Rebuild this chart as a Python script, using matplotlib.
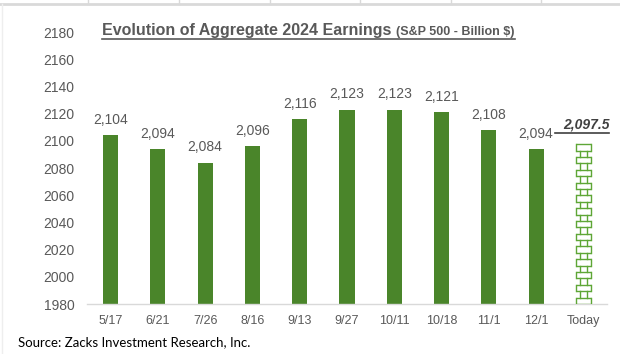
import matplotlib.pyplot as plt
from matplotlib.lines import Line2D
from matplotlib.patches import Rectangle

dates = ['5/17', '6/21', '7/26', '8/16', '9/13', '9/27', '10/11', '10/18', '11/1', '12/1', 'Today']
earnings = [2104, 2094, 2084, 2096, 2116, 2123, 2123, 2121, 2108, 2094, 2097.5]
yticks = [1980, 2000, 2020, 2040, 2060, 2080, 2100, 2120, 2140, 2160, 2180]

green = '#4a852a'
gray = '#595959'

plt.rcParams['font.family'] = ['Liberation Sans', 'DejaVu Sans']

fig = plt.figure(figsize=(6.2, 3.54), dpi=100)
ax = fig.add_axes([87/620, 50/354, 520/620, 272/354])

x = list(range(len(dates)))
w = 0.32
ax.bar(x[:-1], earnings[:-1], width=w, bottom=0, color=green, zorder=2)

# today bar: white with brick pattern
bx = x[-1] - w/2
base = yticks[0]
top = earnings[-1]
ax.add_patch(Rectangle((bx, base), w, top-base, facecolor='white', edgecolor='none', zorder=2))
rows = 25
rh = (top-base)/rows
for i in range(rows+1):
    ax.plot([bx, bx+w], [base+i*rh]*2, color='#5ea636', lw=1.0, zorder=3, solid_capstyle='butt')
for i in range(rows):
    y0, y1 = base+i*rh, base+(i+1)*rh
    xs = [bx, bx+w] if i % 2 == 0 else [bx+w*0.25, bx+w*0.75]
    for xv in xs:
        ax.plot([xv, xv], [y0, y1], color='#5ea636', lw=1.0, zorder=3)

for xi, v in zip(x[:-1], earnings[:-1]):
    ax.annotate(f'{v:,.0f}', (xi, v), xytext=(0, 6), textcoords='offset points',
                ha='center', va='bottom', fontsize=10, color=gray)
tl = ax.annotate(f'{earnings[-1]:,.1f}', (x[-1], earnings[-1]), xytext=(2, 9), textcoords='offset points',
                 ha='center', va='bottom', fontsize=10, color='#404040', fontweight='bold', style='italic')

ax.set_ylim(yticks[0], yticks[-1])
ax.set_xlim(-0.5, len(dates)-0.5)
ax.set_yticks(yticks)
ax.set_xticks(x)
ax.set_xticklabels(dates)
ax.tick_params(axis='y', length=0, pad=9, labelsize=10, labelcolor=gray)
ax.tick_params(axis='x', length=0, pad=8, labelsize=9, labelcolor=gray)
for s in ['top', 'right', 'left']:
    ax.spines[s].set_visible(False)
ax.spines['bottom'].set_color('#d9d9d9')
ax.spines['bottom'].set_linewidth(1)

t1 = fig.text(102/620, 1-35/354, 'Evolution of Aggregate 2024 Earnings', fontsize=11.5,
              fontweight='bold', color=gray, va='baseline', ha='left')
fig.canvas.draw()
r = fig.canvas.get_renderer()
bb = t1.get_window_extent(r)
t2 = fig.text((bb.x1+5)/620, 1-35/354, '(S&P 500 - Billion $)', fontsize=9,
              fontweight='bold', color=gray, va='baseline', ha='left')
fig.canvas.draw()
bb2 = t2.get_window_extent(r)
fig.add_artist(Line2D([bb.x0/620, bb2.x1/620], [1-38.5/354]*2, transform=fig.transFigure, color=gray, lw=1.2))

bb3 = tl.get_window_extent(r)
fig.add_artist(Line2D([bb3.x0/620 - 0.012, bb3.x1/620], [(bb3.y0-1)/354]*2, transform=fig.transFigure, color='#404040', lw=1.2))

fig.text(18/620, 1-346/354, 'Source: Zacks Investment Research, Inc.', fontsize=9.5,
         family=['Lato', 'DejaVu Sans'], color='black', va='baseline', ha='left')

# spreadsheet grid strip at the top
fig.add_artist(Line2D([0, 1], [1-4/354]*2, transform=fig.transFigure, color='#d9d9d9', lw=2))
for gx in [88, 179, 270, 360, 451, 541]:
    fig.add_artist(Line2D([gx/620]*2, [1-4/354, 1], transform=fig.transFigure, color='#d9d9d9', lw=1))
fig.add_artist(Line2D([2/620]*2, [0, 1-4/354], transform=fig.transFigure, color='#eeeeee', lw=1))

fig.savefig('out.png', dpi=100)
